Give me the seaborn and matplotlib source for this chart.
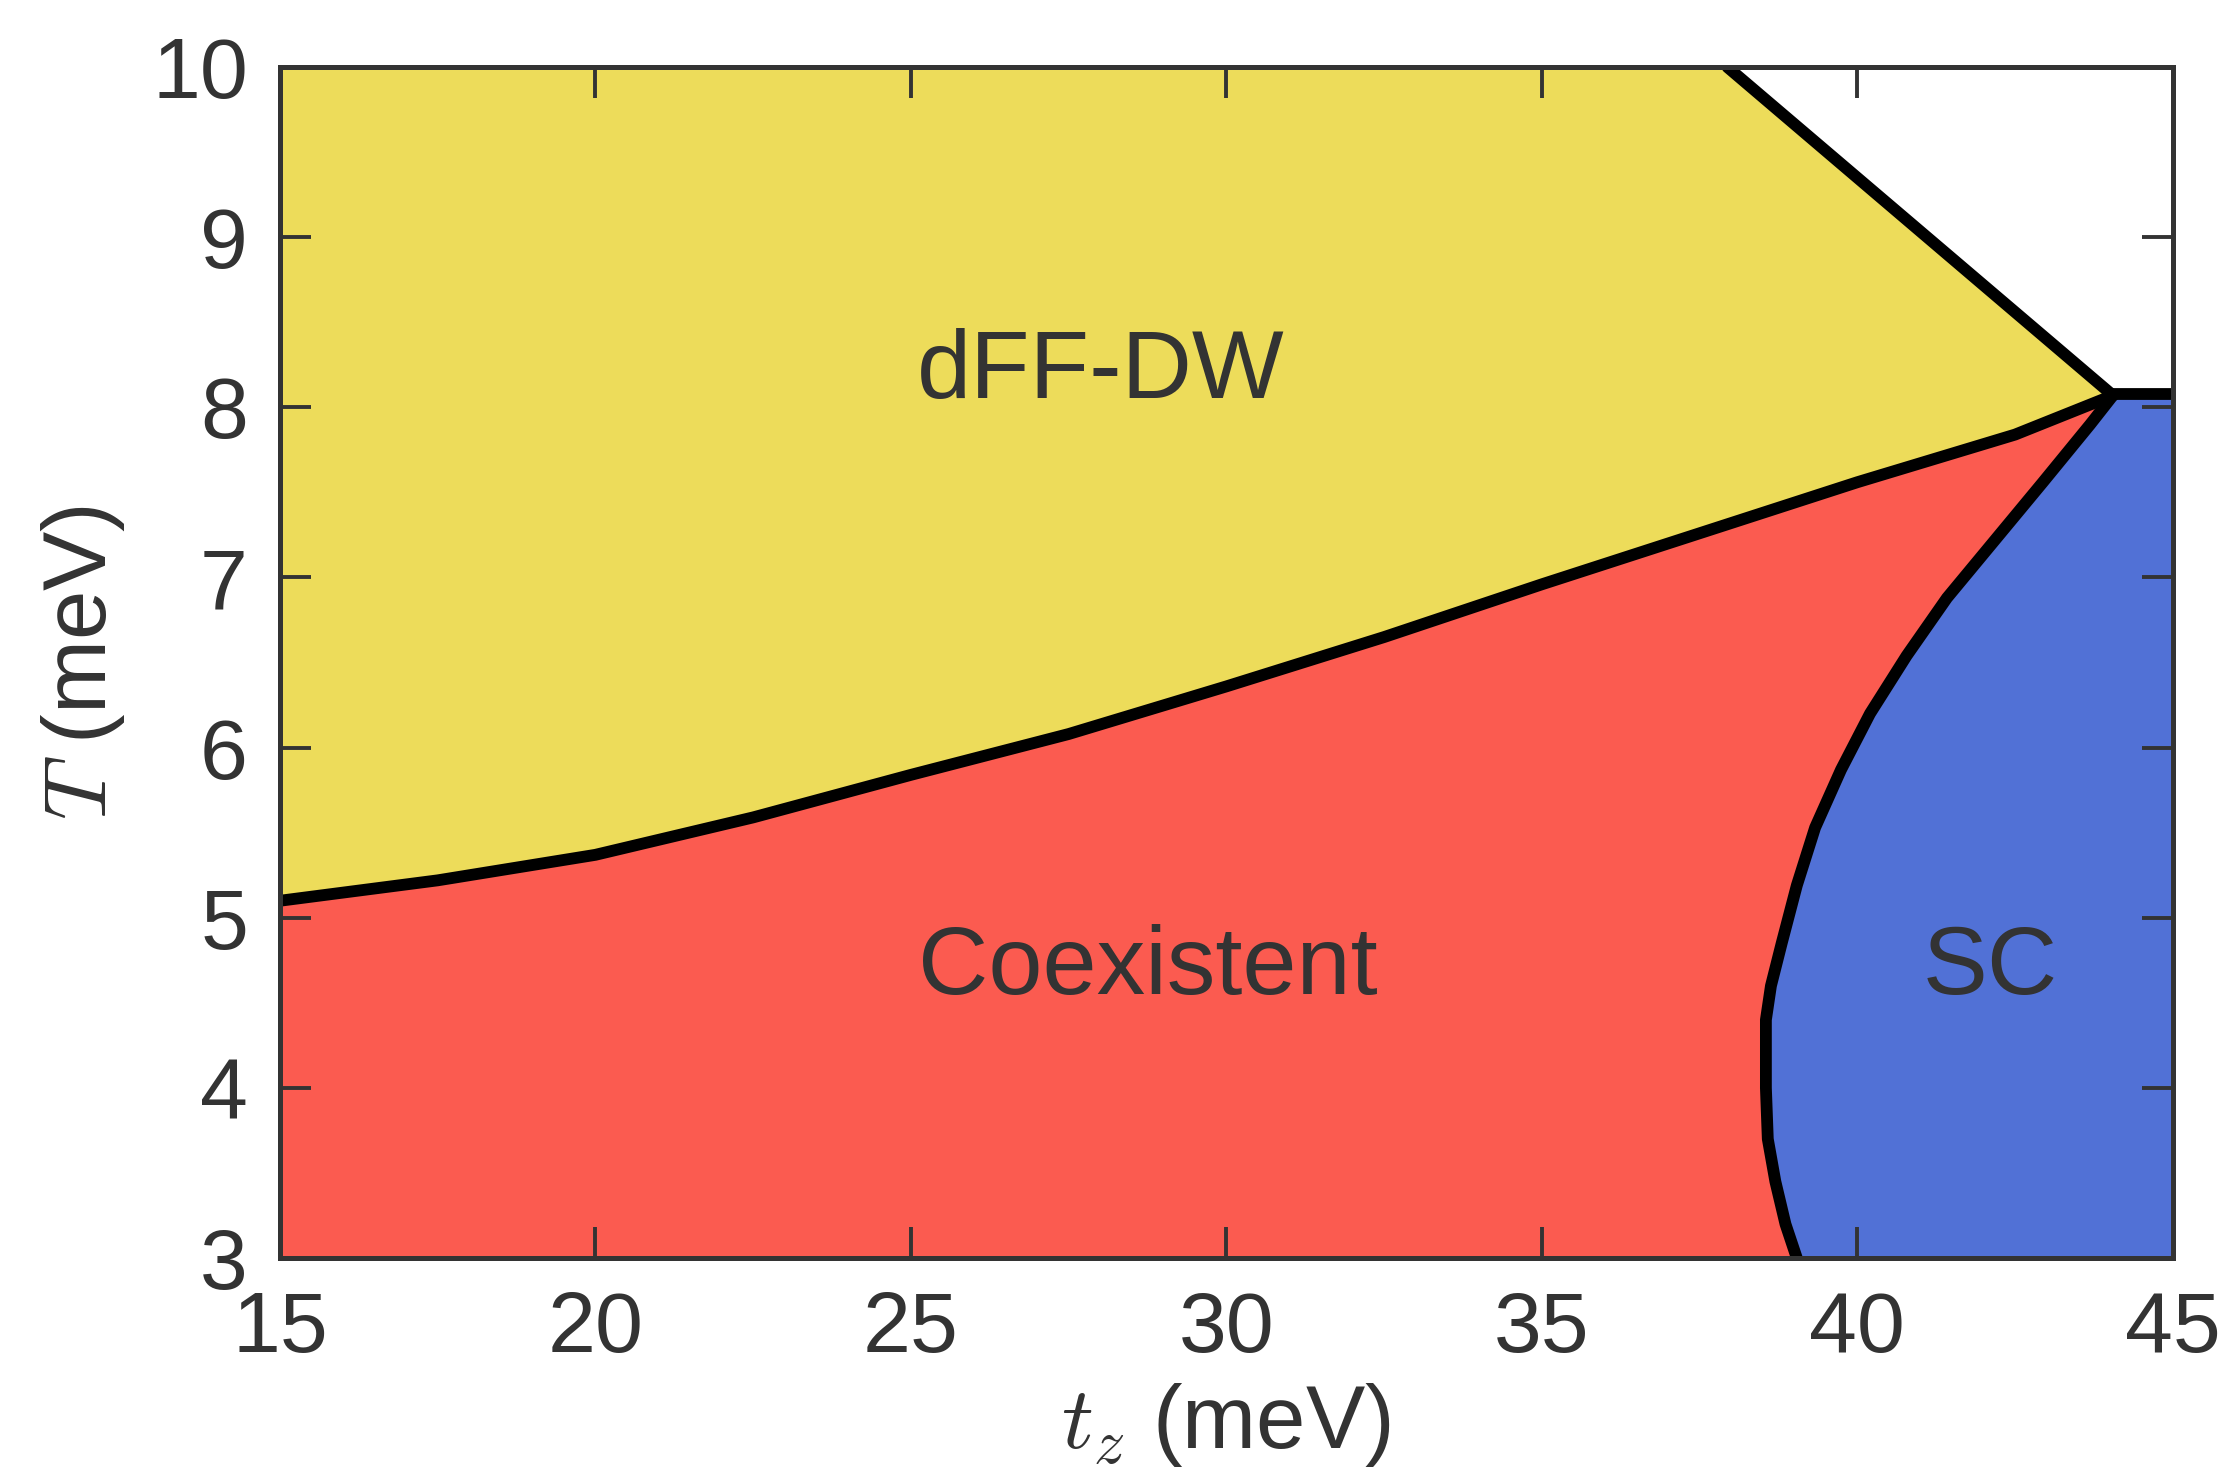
import numpy as np
import pandas as pd
import matplotlib
matplotlib.use("Agg")
import matplotlib.pyplot as plt
import seaborn as sns

# phase boundaries (tz in meV, T in meV)
tz_dw = [15.0, 17.5, 20.0, 22.5, 25.0, 27.5, 30.0, 32.5, 35.0, 37.5, 40.0, 42.5, 44.05]
T_dw = [5.10, 5.22, 5.37, 5.59, 5.84, 6.08, 6.36, 6.65, 6.96, 7.26, 7.56, 7.84, 8.07]

tz_top = [37.94, 44.05]
T_top = [10.0, 8.07]

tz_sc = [39.04, 38.86, 38.70, 38.58, 38.55, 38.55, 38.63, 38.80, 39.04, 39.33, 39.74,
         40.20, 40.78, 41.42, 42.18, 42.94, 43.69, 44.05]
T_sc = [3.00, 3.20, 3.45, 3.70, 4.00, 4.40, 4.60, 4.85, 5.19, 5.53, 5.87,
        6.20, 6.54, 6.88, 7.22, 7.56, 7.90, 8.07]

tz_flat = [44.05, 45.0]
T_flat = [8.08, 8.08]

regions = ["dFF-DW", "Coexistent", "SC"]
region_x = [28.0, 28.75, 42.1]
region_y = [8.2, 4.7, 4.7]

c_yellow = "#EDDC5A"
c_red = "#FB5B50"
c_blue = "#5171D6"
c_text = "#333333"

sns.set_style("ticks")
plt.rcParams["font.family"] = ["Liberation Sans", "DejaVu Sans"]
plt.rcParams["mathtext.fontset"] = "cm"

fig = plt.figure(figsize=(22.27, 14.74), dpi=100)
ax = fig.add_axes([0.1257, 0.1465, 0.85, 0.808])
ax.set_axisbelow(False)

# coexistent (red) below the DW line
ax.fill_between(tz_dw, 3, T_dw, color=c_red, lw=0)
# dFF-DW (yellow) above it, up to the top boundary
yx = tz_dw[::-1] + [15.0] + tz_top
yy = T_dw[::-1] + [10.0] + T_top
ax.fill(yx, yy, color=c_yellow, lw=0)
# SC (blue)
bx = tz_sc + [45.0, 45.0]
by = T_sc + [8.08, 3.0]
ax.fill(bx, by, color=c_blue, lw=0)

for xs, ys in [(tz_dw, T_dw), (tz_top, T_top), (tz_sc, T_sc), (tz_flat, T_flat)]:
    df = pd.DataFrame({"tz": xs, "T": ys})
    sns.lineplot(data=df, x="tz", y="T", sort=False, estimator=None,
                 color="black", lw=8.5, ax=ax, solid_capstyle="round")

for name, x, y in zip(regions, region_x, region_y):
    ax.text(x, y, name, fontsize=70, color=c_text, ha="center", va="center")

ax.set_xlim(15, 45)
ax.set_ylim(3, 10)
ax.set_xticks([15, 20, 25, 30, 35, 40, 45])
ax.set_yticks([3, 4, 5, 6, 7, 8, 9, 10])
ax.tick_params(direction="in", length=22, width=2.8, colors=c_text, labelsize=62,
               pad=23, top=True, right=True)
for sp in ax.spines.values():
    sp.set_linewidth(3.6)
    sp.set_color(c_text)
    sp.set_zorder(5)

ax.set_xlabel(r"$t_z$ (meV)", fontsize=64, color=c_text, labelpad=8)
ax.set_ylabel(r"$T$ (meV)", fontsize=64, color=c_text, labelpad=18)

fig.savefig("out.png", dpi=100)
